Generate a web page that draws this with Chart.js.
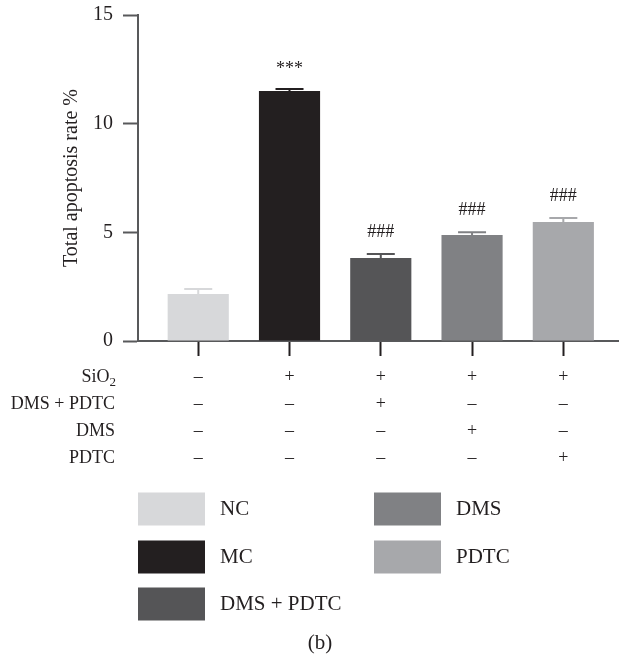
<!DOCTYPE html>
<html>
<head>
<meta charset="utf-8">
<script src="https://cdn.jsdelivr.net/npm/chart.js@4.4.0/dist/chart.umd.min.js"></script>
<style>
    html, body { margin: 0; padding: 0; background: #ffffff; }
    #wrap { width: 619px; height: 656px; }
</style>
</head>
<body>
<div id="wrap"><canvas id="apoptosisChart" width="619" height="656"></canvas></div>
<script>
// groups and values
const groups = ['NC', 'MC', 'DMS + PDTC', 'DMS', 'PDTC'];
const rates = [2.16, 11.5, 3.82, 4.88, 5.48];
const errors = [0.23, 0.1, 0.18, 0.12, 0.18];
const marks = ['', '***', '###', '###', '###'];
const barColors = ['#d7d8da', '#231f20', '#555557', '#808184', '#a7a8ab'];

// treatment table under the x axis
const treatmentRows = ['SiO2', 'DMS + PDTC', 'DMS', 'PDTC'];
const treatmentTable = [
    ['–', '+', '+', '+', '+'],
    ['–', '–', '+', '–', '–'],
    ['–', '–', '–', '+', '–'],
    ['–', '–', '–', '–', '+']
];
const yTicks = [0, 5, 10, 15];

const fontFamily = "'Liberation Serif', 'DejaVu Serif', serif";
const textColor = '#231f20';
const axisColor = '#58595b';

// error bars (upwards only) plus the significance marks
const errorBarPlugin = {
    id: 'errorBars',
    afterDatasetsDraw(chart) {
        const ctx = chart.ctx;
        const x = chart.scales.x;
        const y = chart.scales.y;
        ctx.save();
        rates.forEach((v, i) => {
            const px = x.getPixelForValue(i);
            const top = y.getPixelForValue(v + errors[i]);
            const base = y.getPixelForValue(v);
            ctx.strokeStyle = barColors[i];
            ctx.lineWidth = 2;
            ctx.beginPath();
            ctx.moveTo(px, base);
            ctx.lineTo(px, top);
            ctx.moveTo(px - 14, top);
            ctx.lineTo(px + 14, top);
            ctx.stroke();

            if (marks[i]) {
                ctx.fillStyle = textColor;
                ctx.font = '18px ' + fontFamily;
                ctx.textAlign = 'center';
                ctx.textBaseline = 'alphabetic';
                const off = marks[i] === '***' ? 15 : 17;
                ctx.fillText(marks[i], px, top - off);
            }
        });
        ctx.restore();
    }
};

// row names of the table, in line with the x tick label lines
const rowNamesPlugin = {
    id: 'rowNames',
    afterDraw(chart) {
        const ctx = chart.ctx;
        const x = chart.scales.x;
        const opts = x.options;
        const lineH = 27;
        const startY = x.top + opts.grid.tickLength + opts.ticks.padding;
        const rightX = 115;
        ctx.save();
        ctx.fillStyle = textColor;
        ctx.font = '18px ' + fontFamily;
        ctx.textBaseline = 'middle';
        treatmentRows.forEach((name, i) => {
            const cy = startY + lineH * (i + 0.5);
            if (name === 'SiO2') {
                ctx.font = '13px ' + fontFamily;
                ctx.textAlign = 'right';
                const subW = ctx.measureText('2').width;
                ctx.fillText('2', rightX + 1, cy + 6);
                ctx.font = '18px ' + fontFamily;
                ctx.fillText('SiO', rightX + 1 - subW, cy);
            } else {
                ctx.textAlign = 'right';
                ctx.fillText(name, rightX, cy);
            }
        });
        ctx.restore();
    }
};

// legend in two columns, filled column by column
const legendPlugin = {
    id: 'boxLegend',
    afterDraw(chart) {
        const ctx = chart.ctx;
        const colX = [138, 374];
        const rowY = [509, 557, 604];
        ctx.save();
        ctx.font = '21px ' + fontFamily;
        ctx.textBaseline = 'middle';
        ctx.textAlign = 'left';
        groups.forEach((g, i) => {
            const col = i < 3 ? 0 : 1;
            const row = i < 3 ? i : i - 3;
            const sx = colX[col];
            const sy = rowY[row];
            ctx.fillStyle = barColors[i];
            ctx.fillRect(sx, sy - 16.5, 67, 33);
            ctx.fillStyle = textColor;
            ctx.fillText(g, sx + 82, sy);
        });
        ctx.textAlign = 'center';
        ctx.fillText('(b)', 320, 643);
        ctx.restore();
    }
};

const ctx = document.getElementById('apoptosisChart').getContext('2d');
const myChart = new Chart(ctx, {
    type: 'bar',
    data: {
        datasets: [{
            data: groups.map((g, i) => ({x: i, y: rates[i]})),
            backgroundColor: barColors,
            borderWidth: 0,
            categoryPercentage: 1,
            barPercentage: 0.67,
        }]
    },
    options: {
        responsive: false,
        animation: false,
        layout: {
            padding: {top: 15, right: 0, bottom: 180, left: 0}
        },
        scales: {
            x: {
                type: 'linear',
                offset: false,
                min: -0.66,
                max: 4.61,
                afterBuildTicks: axis => axis.ticks = groups.map((g, i) => ({value: i})),
                afterFit: scale => { scale.height = 135; },
                grid: {
                    offset: false,
                    drawOnChartArea: false,
                    drawTicks: true,
                    tickLength: 15,
                    tickColor: textColor,
                    tickWidth: 2,
                },
                border: {
                    color: axisColor,
                    width: 2,
                },
                ticks: {
                    autoSkip: false,
                    maxRotation: 0,
                    minRotation: 0,
                    padding: 7.5,
                    color: textColor,
                    font: {
                        family: fontFamily,
                        size: 18,
                        lineHeight: 1.5,
                    },
                    callback: function (value, index) {
                        return treatmentTable.map(row => row[index]);
                    }
                }
            },
            y: {
                min: 0,
                max: 15,
                afterBuildTicks: axis => axis.ticks = yTicks.map(v => ({value: v})),
                afterFit: scale => {
                    scale.width = 138;
                    scale.paddingTop = 0;
                    scale.paddingBottom = 0;
                },
                grid: {
                    drawOnChartArea: false,
                    drawTicks: true,
                    tickLength: 15,
                    tickColor: axisColor,
                    tickWidth: 2,
                },
                border: {
                    color: axisColor,
                    width: 2,
                },
                ticks: {
                    padding: 10,
                    color: textColor,
                    font: {
                        family: fontFamily,
                        size: 20,
                    }
                },
                title: {
                    display: true,
                    text: 'Total apoptosis rate %',
                    color: textColor,
                    padding: {top: 60},
                    font: {
                        family: fontFamily,
                        size: 20,
                    }
                }
            }
        },
        plugins: {
            legend: {display: false},
            tooltip: {enabled: false},
        }
    },
    plugins: [errorBarPlugin, rowNamesPlugin, legendPlugin]
});
</script>
</body>
</html>
